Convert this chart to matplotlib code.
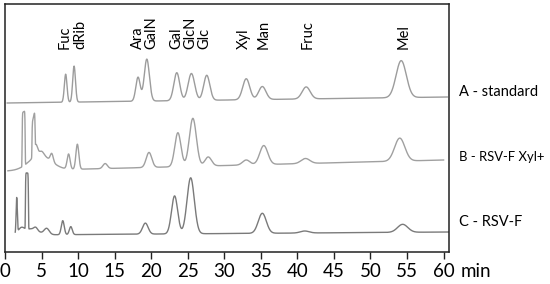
import numpy as np
import matplotlib.pyplot as plt

plt.rcParams['font.family'] = ['Lato', 'DejaVu Sans']

# peak names written above the standard trace, and the time each label sits at
label_names = ['Fuc', 'dRib', 'Ara', 'GalN', 'Gal', 'GlcN', 'Glc', 'Xyl', 'Man', 'Fruc', 'Mel']
label_times = [8.2, 10.3, 18.2, 20.0, 23.5, 25.4, 27.3, 32.7, 35.4, 41.4, 54.5]

# A - standard: retention time (min), height, width (min), shape (2 = gaussian, 8 = flat top)
a_rt = [8.3, 9.45, 18.2, 19.4, 23.5, 25.5, 27.6, 33.0, 35.2, 41.2, 54.2]
a_height = [28, 36, 24, 42, 28, 27, 25, 21, 13, 12, 37]
a_sigma = [0.18, 0.19, 0.3, 0.35, 0.4, 0.45, 0.42, 0.48, 0.5, 0.55, 0.7]
a_shape = [2] * 11
a_base = [150, 156]
a_span = [0.3, 60.5]

# B - RSV-F Xyl+
b_rt = [2.55, 3.9, 4.2, 4.8, 5.0, 6.4, 8.7, 9.9, 13.7, 19.7, 23.65, 25.7, 27.8, 33.0, 35.4, 41.1, 54.0]
b_height = [54, 35, 12, 15, 4, 8, 15, 25, 5, 15, 34, 48, 9, 5, 19, 5, 23]
b_sigma = [0.2, 0.2, 0.25, 1.5, 0.3, 0.2, 0.2, 0.2, 0.3, 0.38, 0.42, 0.48, 0.45, 0.5, 0.55, 0.6, 0.7]
b_shape = [8, 8] + [2] * 15
b_base = [82, 93]
b_span = [0.4, 60.0]

# C - RSV-F
c_rt = [1.6, 2.2, 3.0, 3.5, 4.2, 5.7, 7.9, 9.0, 19.2, 23.2, 25.4, 35.2, 41.0, 54.4]
c_height = [35, 5, 56, 6, 3, 6, 14, 8, 11, 38, 56, 20, 2, 8]
c_sigma = [0.08, 0.4, 0.2, 1.0, 0.25, 0.35, 0.2, 0.2, 0.38, 0.42, 0.5, 0.55, 0.6, 0.7]
c_shape = [2, 2, 8] + [2] * 11
c_base = [18, 21]
c_span = [1.4, 60.7]

trace_names = ['A - standard', 'B - RSV-F Xyl+', 'C - RSV-F']
trace_label_y = [161, 96, 31]
trace_label_size = [10.5, 9.4, 10.5]


def trace(rt, height, sigma, shape, base, span):
    t = np.linspace(span[0], span[1], 4000)
    y = base[0] + (base[1] - base[0]) * (t - span[0]) / (span[1] - span[0])
    for r, h, s, p in zip(rt, height, sigma, shape):
        y = y + h * np.exp(-0.5 * np.abs((t - r) / s) ** p)
    return t, y


fig = plt.figure(figsize=(5.5, 2.84), dpi=100)
ax = fig.add_axes([5 / 550, 32 / 284, 444 / 550, 248 / 284])

traces = [
    (a_rt, a_height, a_sigma, a_shape, a_base, a_span, '#9c9c9c'),
    (b_rt, b_height, b_sigma, b_shape, b_base, b_span, '#a0a0a0'),
    (c_rt, c_height, c_sigma, c_shape, c_base, c_span, '#7a7a7a'),
]
for rt, h, s, p, base, span, col in traces:
    t, y = trace(rt, h, s, p, base, span)
    ax.plot(t, y, color=col, lw=1.0)

for name, tm in zip(label_names, label_times):
    ax.text(tm, 204, name, rotation=90, ha='center', va='bottom', fontsize=10.5)

for name, yy, fs in zip(trace_names, trace_label_y, trace_label_size):
    ax.text(62.1, yy, name, ha='left', va='center', fontsize=fs, clip_on=False)

ax.text(62.3, -0.077, 'min', transform=ax.get_xaxis_transform(),
        ha='left', va='center', fontsize=13.5)

ax.set_xlim(0, 60.74)
ax.set_ylim(1, 249)
ax.set_xticks(np.arange(0, 61, 5))
ax.set_yticks([])
ax.tick_params(axis='x', length=5, width=1, pad=3, labelsize=13.5, color='#222222')
for sp in ax.spines.values():
    sp.set_linewidth(1.1)
    sp.set_color('#222222')

fig.savefig('out.png', dpi=100)
